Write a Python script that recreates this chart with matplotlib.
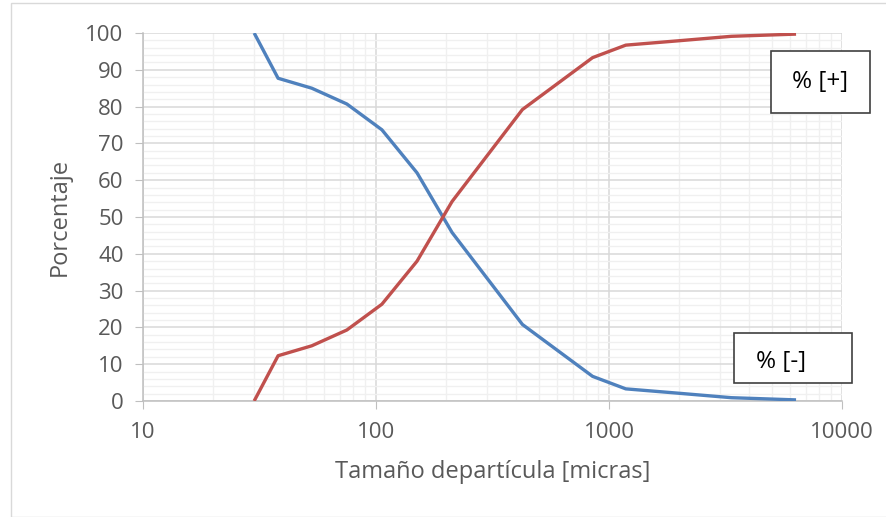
import matplotlib
matplotlib.use("Agg")
import matplotlib.pyplot as plt
from matplotlib.patches import Rectangle
from matplotlib.ticker import FixedLocator, NullFormatter

plt.rcParams["font.family"] = ["Open Sans", "DejaVu Sans"]

# particle size (micras) and cumulative percentages
size = [30, 38, 53, 75, 106, 150, 212, 425, 850, 1180, 2000, 3350, 6350]
pct_plus = [0.0, 12.3, 15.0, 19.3, 26.3, 38.0, 54.2, 79.2, 93.3, 96.7, 97.9, 99.1, 99.7]
pct_minus = [100.0, 87.7, 85.0, 80.7, 73.7, 62.0, 45.8, 20.8, 6.7, 3.3, 2.1, 0.9, 0.3]

x_ticks = [10, 100, 1000, 10000]
y_ticks = list(range(0, 101, 10))

W, H = 886, 517
fig = plt.figure(figsize=(W / 100, H / 100), dpi=100)
ax = fig.add_axes([143 / W, 1 - 401 / H, (842 - 143) / W, (401 - 33) / H])

# outer chart frame
fig.patches.append(Rectangle((11 / W, 0), 1, 1 - 3 / H, transform=fig.transFigure,
                             fill=False, edgecolor="#d9d9d9", linewidth=1))

ax.plot(size, pct_minus, color="#4F81BD", lw=2.4, solid_capstyle="butt", zorder=3)
ax.plot(size, pct_plus, color="#C0504D", lw=2.4, solid_capstyle="butt", zorder=3)

ax.set_xscale("log")
ax.set_xlim(10, 10000)
ax.set_ylim(0, 100)
ax.xaxis.set_major_locator(FixedLocator(x_ticks))
ax.set_xticklabels([str(v) for v in x_ticks])
ax.xaxis.set_minor_locator(FixedLocator([m * 10 ** e for e in range(1, 4) for m in range(2, 10)]))
ax.xaxis.set_minor_formatter(NullFormatter())
ax.yaxis.set_major_locator(FixedLocator(y_ticks))
ax.yaxis.set_minor_locator(FixedLocator([v for v in range(0, 101, 2) if v % 10]))

ax.grid(True, which="major", color="#d9d9d9", lw=1.1, zorder=0)
ax.grid(True, which="minor", color="#f0f0f0", lw=1.0, zorder=0)
ax.set_axisbelow(True)

for s in ["top", "right"]:
    ax.spines[s].set_visible(False)
ax.spines["left"].set_color("#bfbfbf")
ax.spines["bottom"].set_color("#bfbfbf")
ax.spines["left"].set_linewidth(1.1)
ax.spines["bottom"].set_linewidth(1.1)

ax.tick_params(which="major", axis="both", length=6, color="#bfbfbf",
               labelsize=16, labelcolor="#595959")
ax.tick_params(which="minor", length=0)
ax.tick_params(axis="x", pad=9)
ax.tick_params(axis="y", pad=8)

ax.set_xlabel("Tamaño departícula [micras]", fontsize=17, color="#595959", labelpad=12)
ax.set_ylabel("Porcentaje", fontsize=17, color="#595959", labelpad=10)

# label boxes
fig.patches.append(Rectangle((771 / W, 1 - 113 / H), (870 - 771) / W, (113 - 51) / H,
                             transform=fig.transFigure, facecolor="white",
                             edgecolor="#404040", linewidth=1.2, zorder=5))
fig.text(820 / W, 1 - 82 / H, "% [+]", fontsize=17.5, color="black",
         ha="center", va="center", zorder=6)
fig.patches.append(Rectangle((734 / W, 1 - 383 / H), (852 - 734) / W, (383 - 333) / H,
                             transform=fig.transFigure, facecolor="white",
                             edgecolor="#404040", linewidth=1.2, zorder=5))
fig.text(781 / W, 1 - 362 / H, "% [-]", fontsize=17.5, color="black",
         ha="center", va="center", zorder=6)

fig.savefig("out.png", dpi=100)
